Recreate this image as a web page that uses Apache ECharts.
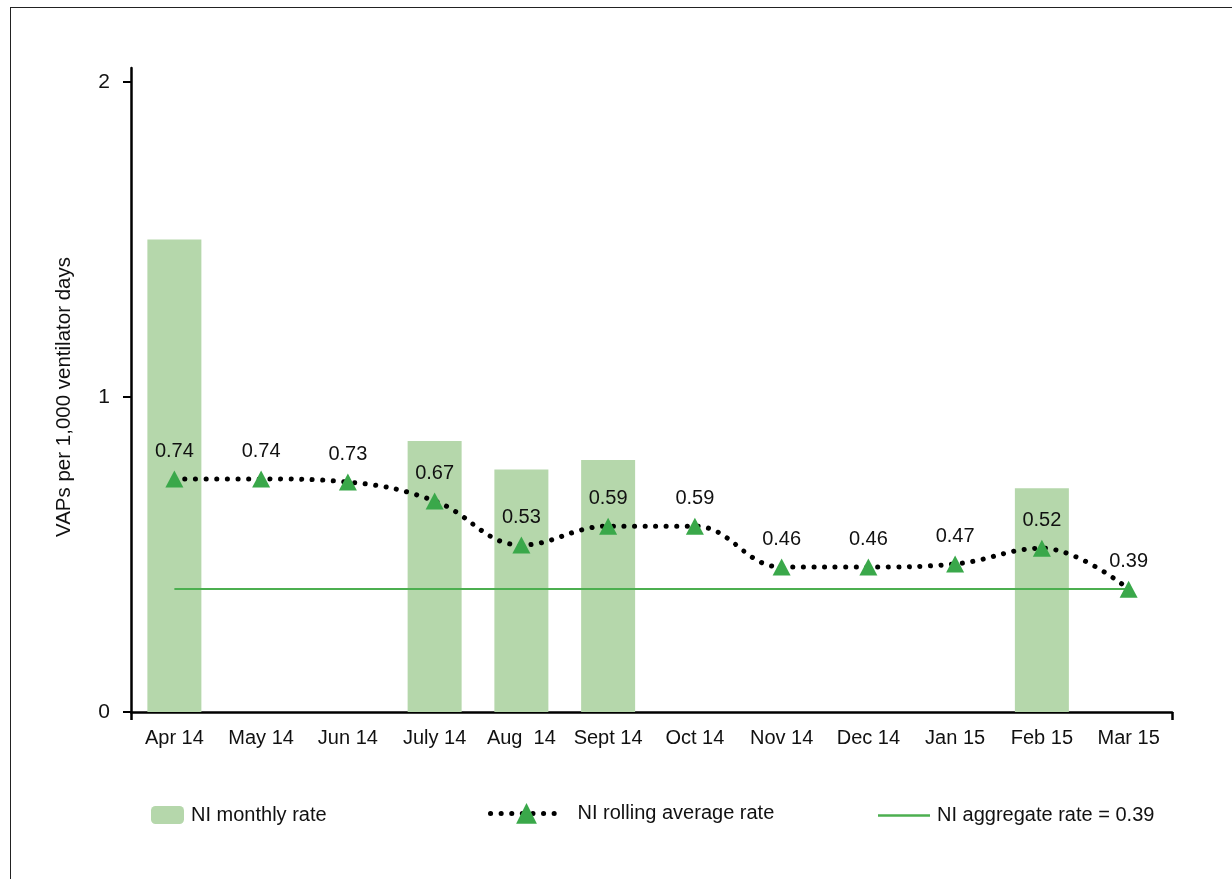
<!DOCTYPE html>
<html>
<head>
<meta charset="utf-8">
<script src="https://cdn.jsdelivr.net/npm/echarts@6/dist/echarts.min.js"></script>
<style>
  html, body { margin: 0; padding: 0; background: #fff; }
  #frame { position: absolute; left: 10px; top: 7px; width: 1300px; height: 1000px;
           border-left: 1.5px solid #222; border-top: 1.5px solid #222; pointer-events: none; }
  #chart { position: absolute; left: 0; top: 0; width: 1232px; height: 879px; }
</style>
</head>
<body>
<div id="chart"></div>
<div id="frame"></div>
<script>
const categories = ['Apr 14', 'May 14', 'Jun 14', 'July 14', 'Aug  14', 'Sept 14', 'Oct 14', 'Nov 14', 'Dec 14', 'Jan 15', 'Feb 15', 'Mar 15'];
const monthlyRate = [1.5, 0, 0, 0.86, 0.77, 0.80, 0, 0, 0, 0, 0.71, 0];
const rollingRate = [0.74, 0.74, 0.73, 0.67, 0.53, 0.59, 0.59, 0.46, 0.46, 0.47, 0.52, 0.39];
const aggregateRate = 0.39;
const yTicks = [0, 1, 2];

const names = {
  monthly: 'NI monthly rate',
  rolling: 'NI rolling average rate',
  aggregate: 'NI aggregate rate = 0.39'
};

const FONT = '"Liberation Sans", Arial, Helvetica, sans-serif';
const chart = echarts.init(document.getElementById('chart'), null, { renderer: 'canvas' });

const legendText = { fontSize: 20, color: '#111', fontFamily: FONT };
const dotLine = { color: '#000', width: 5, type: [0.1, 10.5], cap: 'round' };

chart.setOption({
  animation: false,
  textStyle: { fontFamily: FONT },
  grid: [
    { left: 131, right: 60, top: 82, bottom: 167 },
    { left: 131, right: 60, top: 68, bottom: 167 }
  ],
  legend: [
    { data: [names.monthly], left: 151, top: 805, padding: 0, itemWidth: 33, itemHeight: 18, itemGap: 8,
      textStyle: Object.assign({}, legendText, { padding: [0, 0, 0, 2] }) },
    { data: [{ name: names.rolling, lineStyle: dotLine, itemStyle: { color: '#3aa84a' } }],
      left: 488, top: 803, padding: 0, itemWidth: 72, itemHeight: 26, itemGap: 8,
      textStyle: Object.assign({}, legendText, { padding: [0, 0, 0, 10] }) },
    { data: [{ name: names.aggregate, icon: 'rect', itemStyle: { color: '#4caf50' } }],
      left: 878, top: 805.5, padding: 0, itemWidth: 52, itemHeight: 2.5, itemGap: 8,
      textStyle: Object.assign({}, legendText, { padding: [0, 0, 0, 2] }) }
  ],
  xAxis: [
    {
      type: 'category', data: categories, gridIndex: 0, position: 'bottom',
      axisLine: { lineStyle: { color: '#000', width: 2.5 } },
      axisTick: { alignWithLabel: true, length: 8, lineStyle: { color: '#000', width: 2.5 } },
      axisLabel: { color: '#111', fontSize: 20, margin: 16, interval: 0 }
    },
    {
      type: 'value', gridIndex: 1, min: 0, max: 1, interval: 1, position: 'bottom',
      axisLine: { show: false },
      axisTick: { show: true, length: 8, lineStyle: { color: '#000', width: 2.5 } },
      axisLabel: { show: false }, splitLine: { show: false }
    }
  ],
  yAxis: [
    {
      type: 'value', gridIndex: 0, min: yTicks[0], max: yTicks[yTicks.length - 1], interval: 1,
      name: 'VAPs per 1,000 ventilator days', nameLocation: 'middle', nameGap: 56,
      nameTextStyle: { fontSize: 20.5, color: '#111' },
      axisLine: { show: false },
      axisTick: { show: true, length: 8, lineStyle: { color: '#000', width: 2 } },
      axisLabel: { color: '#111', fontSize: 21, margin: 21 },
      splitLine: { show: false }
    },
    {
      type: 'value', gridIndex: 1, min: 0, max: 1,
      axisLine: { show: true, lineStyle: { color: '#000', width: 2.5 } },
      axisTick: { show: false }, axisLabel: { show: false }, splitLine: { show: false }
    }
  ],
  series: [
    {
      name: names.monthly, type: 'bar', xAxisIndex: 0, yAxisIndex: 0,
      data: monthlyRate, barWidth: 54,
      itemStyle: { color: '#b5d7ab' }
    },
    {
      name: names.aggregate, type: 'line', xAxisIndex: 0, yAxisIndex: 0,
      data: [], symbol: 'none',
      lineStyle: { color: '#4caf50', width: 2.5 },
      itemStyle: { color: '#4caf50' },
      markLine: {
        silent: true, symbol: ['none', 'none'], label: { show: false },
        lineStyle: { color: '#4caf50', width: 2, type: 'solid' },
        data: [[{ xAxis: categories[0], yAxis: aggregateRate }, { xAxis: categories[categories.length - 1], yAxis: aggregateRate }]]
      }
    },
    {
      name: names.rolling, type: 'line', xAxisIndex: 0, yAxisIndex: 0,
      data: rollingRate, smooth: 0.4,
      symbol: 'triangle', symbolSize: [18, 17],
      itemStyle: { color: '#3aa84a' },
      lineStyle: dotLine,
      label: { show: true, position: 'top', distance: 9, fontSize: 20, color: '#111',
               formatter: p => p.value.toFixed(2) },
      z: 5
    }
  ]
});
</script>
</body>
</html>
